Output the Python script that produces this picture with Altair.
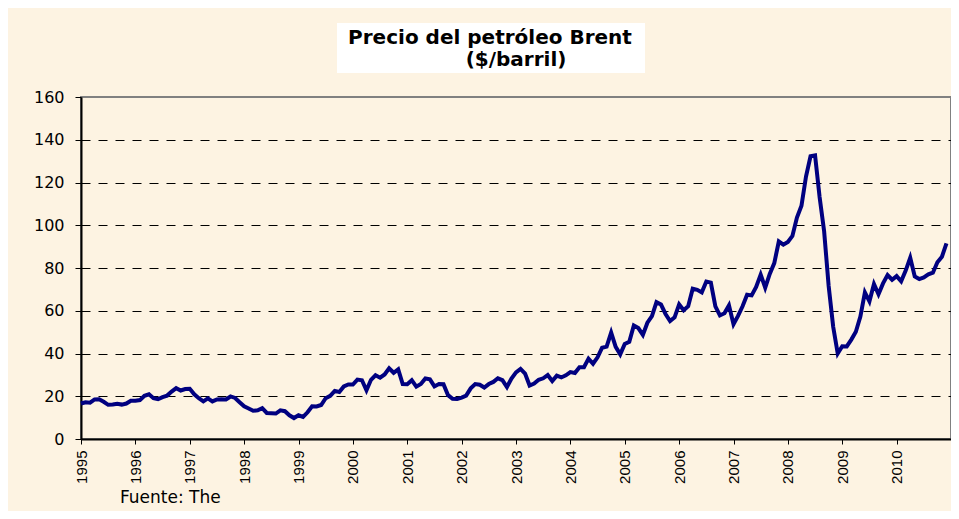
import altair as alt
import pandas as pd

# Monthly Brent price ($/barrel), Jan..Dec of each year
years = list(range(1995, 2011))
p1995 = [16.6, 17.2, 17.0, 18.5, 18.6, 17.4, 16.0, 16.1, 16.5, 16.1, 16.6, 17.9]
p1996 = [17.9, 18.2, 20.2, 20.9, 19.1, 18.6, 19.6, 20.3, 22.2, 23.8, 22.7, 23.4]
p1997 = [23.5, 20.9, 19.1, 17.6, 19.0, 17.6, 18.5, 18.6, 18.5, 19.9, 19.2, 17.2]
p1998 = [15.3, 14.3, 13.2, 13.4, 14.4, 12.2, 12.1, 11.9, 13.4, 13.0, 11.1, 9.8]
p1999 = [11.1, 10.3, 12.5, 15.3, 15.2, 15.9, 19.1, 20.2, 22.5, 22.0, 24.6, 25.5]
p2000 = [25.5, 27.8, 27.5, 22.8, 27.7, 29.8, 28.7, 30.2, 33.1, 31.0, 32.6, 25.7]
p2001 = [25.6, 27.5, 24.5, 25.7, 28.3, 27.9, 24.6, 25.7, 25.6, 20.5, 18.8, 18.7]
p2002 = [19.4, 20.3, 23.7, 25.7, 25.4, 24.1, 25.7, 26.7, 28.4, 27.5, 24.3, 28.3]
p2003 = [31.2, 32.8, 30.6, 25.0, 25.9, 27.7, 28.4, 29.9, 27.1, 29.6, 28.8, 29.8]
p2004 = [31.3, 30.9, 33.6, 33.6, 37.6, 35.2, 38.2, 42.7, 43.2, 49.8, 43.1, 39.6]
p2005 = [44.5, 45.5, 53.1, 51.9, 48.7, 54.4, 57.5, 64.0, 62.9, 58.5, 55.2, 56.9]
p2006 = [63.0, 60.2, 62.1, 70.3, 69.8, 68.6, 73.7, 73.2, 62.0, 57.8, 58.8, 62.5]
p2007 = [53.7, 57.6, 62.1, 67.5, 67.2, 71.1, 76.9, 70.8, 77.2, 82.3, 92.4, 90.9]
p2008 = [92.2, 95.0, 103.6, 109.1, 122.8, 132.3, 132.7, 113.2, 97.2, 71.6, 52.5, 40.0]
p2009 = [43.4, 43.3, 46.5, 50.2, 57.3, 68.6, 64.4, 72.5, 67.7, 72.8, 76.7, 74.5]
p2010 = [76.2, 73.8, 78.8, 84.8, 76.0, 74.8, 75.6, 77.0, 77.8, 82.7, 85.3, 91.5]

series = [p1995, p1996, p1997, p1998, p1999, p2000, p2001, p2002,
          p2003, p2004, p2005, p2006, p2007, p2008, p2009, p2010]

y_ticks = [0, 20, 40, 60, 80, 100, 120, 140, 160]
title_1 = "Precio del petróleo Brent"
title_2 = "($/barril)"
source_text = "Fuente: The"

rows = []
for yr, vals in zip(years, series):
    for m, v in enumerate(vals):
        rows.append({"t": yr + m / 12.0, "price": v})
df = pd.DataFrame(rows)

FONT = "DejaVu Sans"
BG = "#FDF3E2"

line = alt.Chart(df).mark_line(color="#000080", strokeWidth=4).encode(
    x=alt.X("t:Q",
            scale=alt.Scale(domain=[1995, 2011], nice=False, zero=False),
            axis=alt.Axis(values=years, format="d", title=None, grid=False,
                          labelAngle=270, labelAlign="right", labelBaseline="middle",
                          labelFont="Liberation Sans", labelFontSize=15, labelColor="black",
                          labelPadding=6, tickSize=5, tickColor="black", tickWidth=1,
                          domainColor="black", domainWidth=2, labelOverlap=False)),
    y=alt.Y("price:Q",
            scale=alt.Scale(domain=[0, 160], nice=False),
            axis=alt.Axis(values=y_ticks, format="d", title=None,
                          labelFont=FONT, labelFontSize=16, labelColor="black",
                          labelPadding=11, tickSize=6, tickColor="black", tickWidth=1,
                          domainColor="black", domainWidth=2,
                          grid=True, gridColor="black", gridDash=[9, 8], gridWidth=1,
                          gridOpacity={"condition": {"test": "datum.value === 160", "value": 0},
                                       "value": 1})),
)

one = pd.DataFrame({"k": [0]})

title_box = alt.Chart(one).mark_rect(fill="white").encode(
    x=alt.value(256), x2=alt.value(564), y=alt.value(-74), y2=alt.value(-24)
)

t1 = alt.Chart(one).mark_text(font=FONT, fontSize=20, fontWeight="bold", color="black",
                              align="center", baseline="alphabetic").encode(
    x=alt.value(409), y=alt.value(-53), text=alt.value(title_1)
)
t2 = alt.Chart(one).mark_text(font=FONT, fontSize=20, fontWeight="bold", color="black",
                              align="center", baseline="alphabetic").encode(
    x=alt.value(435), y=alt.value(-31), text=alt.value(title_2)
)
src = alt.Chart(one).mark_text(font=FONT, fontSize=17, color="black",
                               align="left", baseline="alphabetic").encode(
    x=alt.value(39), y=alt.value(406), text=alt.value(source_text)
)

chart = alt.layer(line, title_box, t1, t2, src).properties(
    width=870, height=342,
    autosize=alt.AutoSizeParams(type="none"),
    padding={"left": 73, "top": 89, "right": 0, "bottom": 72},
).configure(background=BG).configure_view(fill=BG, stroke="#808080", strokeWidth=2)

chart.save("out.html", embed_options={"renderer": "svg", "actions": False})
